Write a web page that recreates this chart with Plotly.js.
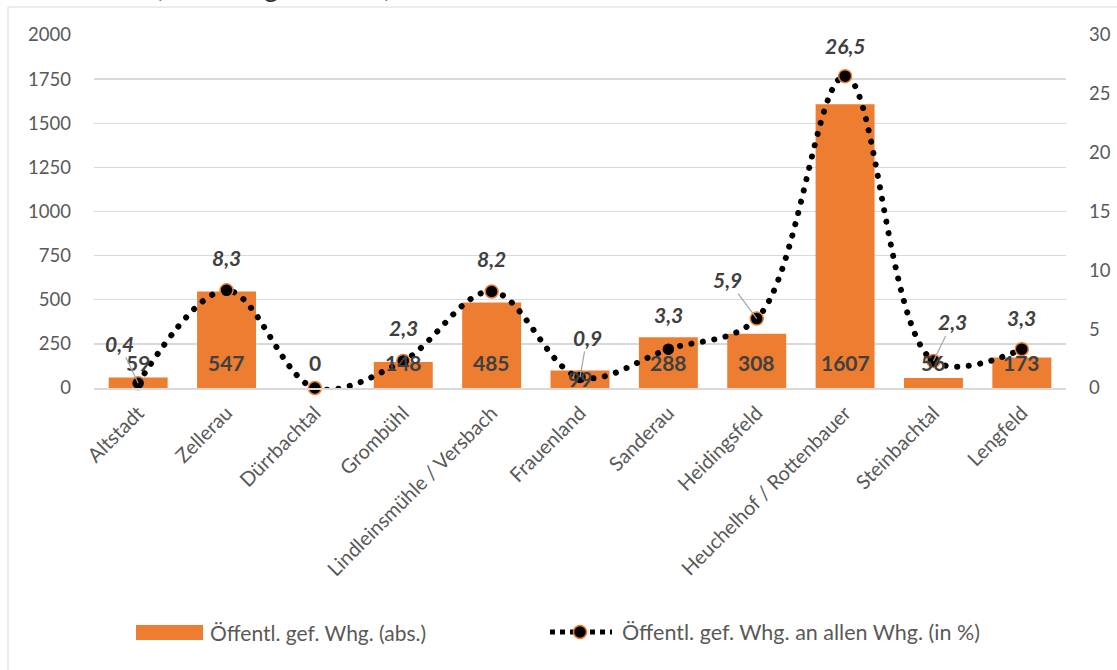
<!DOCTYPE html>
<html>
<head>
<meta charset="utf-8">
<script src="https://cdn.plot.ly/plotly-3.0.1.min.js"></script>
<style>
html,body{margin:0;padding:0;background:#fff;}
#chart{width:1117px;height:670px;}
.scatterlayer .js-line{stroke-linecap:round !important;}
</style>
</head>
<body>
<div id="chart"></div>
<script>
// ---- data ----
const categories = ["Altstadt","Zellerau","Dürrbachtal","Grombühl","Lindleinsmühle / Versbach","Frauenland","Sanderau","Heidingsfeld","Heuchelhof / Rottenbauer","Steinbachtal","Lengfeld"];
const absValues = [59, 547, 0, 148, 485, 99, 288, 308, 1607, 56, 173];
const pctValues = [0.4, 8.3, 0, 2.3, 8.2, 0.9, 3.3, 5.9, 26.5, 2.3, 3.3];
const seriesNames = ["Öffentl. gef. Whg. (abs.)", "Öffentl. gef. Whg. an allen Whg. (in %)"];
const leftTicks = [0, 250, 500, 750, 1000, 1250, 1500, 1750, 2000];
const rightTicks = [0, 5, 10, 15, 20, 25, 30];
const titleText = "(Wohnungsbestand)";

// ---- label placement (pixel offsets, style only) ----
const barLabelShift = [26, 26, 26, 26, 26, 10, 26, 26, 26, 26, 26];
// [dx, dy, leader] for percentage labels; null = no label
const pctLabelPos = [[-19,-40,true],[0,-33,false],null,[0,-33,false],[0,-33,false],[7,-40,true],[0,-35,false],[-29,-39,true],[0,-31,false],[19,-39,true],[0,-32,false]];

const ORANGE = "#ED7D31";
const TXT = "#404040";
const AX = "#595959";
const FONT = "Lato, 'Open Sans', sans-serif";

// plot area in px
const L = 94, R = 51, T = 35, B = 282, W = 1117, H = 670;
const PW = W - L - R, PH = H - T - B;
const px2x = p => (p - L) / PW;
const py2y = p => (H - B - p) / PH;

const fmt = v => String(v).replace('.', ',');

const traces = [
  {
    type: 'bar', x: categories, y: absValues, name: seriesNames[0],
    marker: {color: ORANGE}, yaxis: 'y', hoverinfo: 'x+y', showlegend: false
  },
  {
    type: 'scatter', mode: 'lines+markers', x: categories, y: pctValues, name: seriesNames[1],
    yaxis: 'y2', showlegend: false, cliponaxis: false,
    line: {color: '#000000', width: 6, dash: '0.1px,11.5px', shape: 'spline', smoothing: 1},
    marker: {color: '#000000', size: 13, line: {color: ORANGE, width: 1.5}}
  }
];

const annotations = [];
categories.forEach((c, i) => {
  annotations.push({
    x: c, y: 0, xref: 'x', yref: 'y', text: String(absValues[i]), showarrow: false,
    yanchor: 'middle', yshift: barLabelShift[i],
    font: {family: FONT, size: 21, color: TXT, weight: 'bold'}
  });
  const p = pctLabelPos[i];
  if (p) {
    const a = {
      x: c, y: pctValues[i], xref: 'x', yref: 'y2', text: '<b><i>' + fmt(pctValues[i]) + '</i></b>',
      font: {family: FONT, size: 21, color: TXT}
    };
    if (p[2]) {
      Object.assign(a, {showarrow: true, arrowhead: 0, arrowwidth: 1.2, arrowcolor: '#a6a6a6', ax: p[0], ay: p[1], standoff: 0});
    } else {
      Object.assign(a, {showarrow: false, yshift: -p[1], xshift: p[0]});
    }
    annotations.push(a);
  }
});

// legend (manual)
annotations.push({xref: 'paper', yref: 'paper', x: px2x(208), y: py2y(632), xanchor: 'left', yanchor: 'middle', showarrow: false,
  text: seriesNames[0], font: {family: FONT, size: 21, color: AX}});
annotations.push({xref: 'paper', yref: 'paper', x: px2x(620), y: py2y(632), xanchor: 'left', yanchor: 'middle', showarrow: false,
  text: seriesNames[1], font: {family: FONT, size: 21.5, color: AX}});
// cut-off title at the very top
annotations.push({xref: 'paper', yref: 'paper', x: px2x(154), y: py2y(4.5), xanchor: 'left', yanchor: 'bottom', showarrow: false,
  text: titleText, borderpad: 0, font: {family: FONT, size: 27, color: '#333333'}});

const shapes = [
  // outer frame
  {type: 'rect', xref: 'paper', yref: 'paper', x0: px2x(8), x1: px2x(1125), y0: py2y(680), y1: py2y(7),
   line: {color: '#d9d9d9', width: 1}, fillcolor: 'rgba(0,0,0,0)', layer: 'below'},
  // legend bar swatch
  {type: 'rect', xref: 'paper', yref: 'paper', x0: px2x(136), x1: px2x(203), y0: py2y(640), y1: py2y(625),
   line: {width: 0}, fillcolor: ORANGE},
  // legend dotted line
  {type: 'line', xref: 'paper', yref: 'paper', x0: px2x(550), x1: px2x(612), y0: py2y(632), y1: py2y(632),
   line: {color: '#000', width: 5, dash: 'dot'}},
  // legend marker
  {type: 'circle', xref: 'paper', yref: 'paper', x0: px2x(573.5), x1: px2x(586.5), y0: py2y(638.5), y1: py2y(625.5),
   line: {color: ORANGE, width: 1.5}, fillcolor: '#000'}
];

const layout = {
  width: W, height: H, autosize: false,
  margin: {l: L, r: R, t: T, b: B, pad: 0},
  paper_bgcolor: '#fff', plot_bgcolor: '#fff',
  font: {family: FONT, color: AX},
  bargap: 0.333,
  xaxis: {
    type: 'category', range: [-0.5, categories.length - 0.5], autorange: false,
    tickangle: -45, tickfont: {family: FONT, size: 20, color: AX},
    showline: true, linecolor: '#d9d9d9', linewidth: 1.5, ticks: '', showgrid: false, automargin: false,
    ticklabelstandoff: 4
  },
  yaxis: {
    range: [0, 2000], autorange: false, tickvals: leftTicks, ticktext: leftTicks.map(String),
    showgrid: true, gridcolor: '#d9d9d9', gridwidth: 1.3, zeroline: false, showline: false,
    tickfont: {family: FONT, size: 18.5, color: AX}, ticks: '', ticklabelstandoff: 22, automargin: false
  },
  yaxis2: {
    range: [0, 30], autorange: false, tickvals: rightTicks, ticktext: rightTicks.map(String), overlaying: 'y', side: 'right',
    showgrid: false, zeroline: false, showline: false,
    tickfont: {family: FONT, size: 18.5, color: AX}, ticks: '', ticklabelstandoff: 22, automargin: false
  },
  showlegend: false,
  annotations: annotations,
  shapes: shapes
};

Plotly.newPlot('chart', traces, layout, {displayModeBar: false, staticPlot: true});
</script>
</body>
</html>
